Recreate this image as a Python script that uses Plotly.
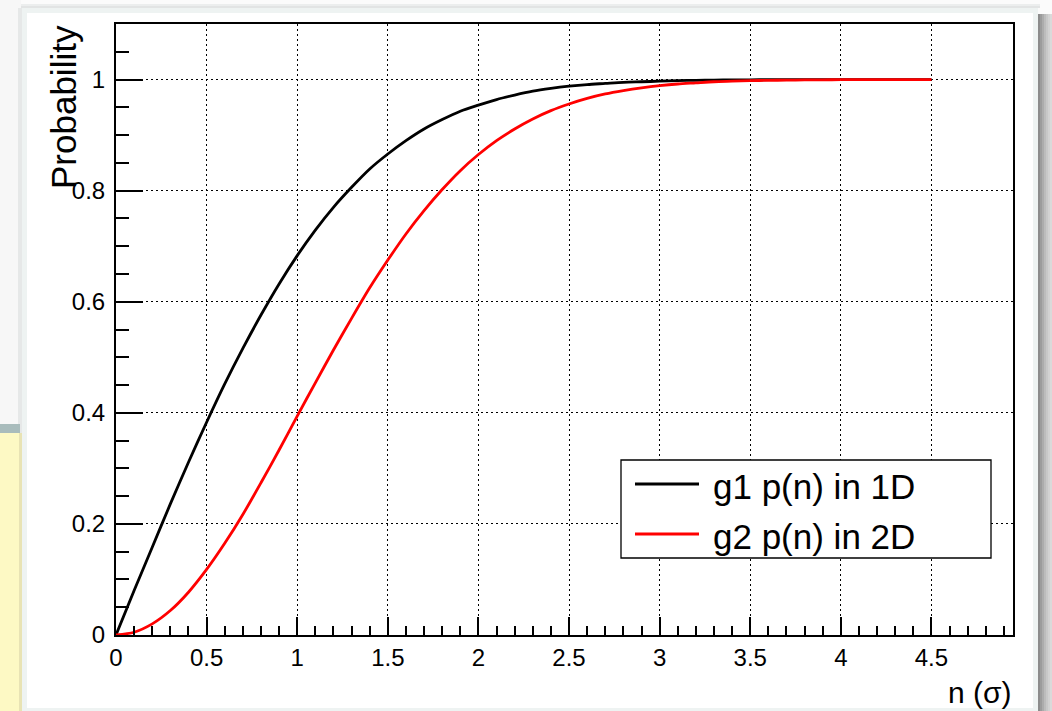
import plotly.graph_objects as go

# ---- data ----
n_sigma = [0.0, 0.1, 0.2, 0.3, 0.4, 0.5, 0.6, 0.7, 0.8, 0.9, 1.0, 1.1, 1.2, 1.3, 1.4,
           1.5, 1.6, 1.7, 1.8, 1.9, 2.0, 2.1, 2.2, 2.3, 2.4, 2.5, 2.6, 2.7, 2.8, 2.9,
           3.0, 3.1, 3.2, 3.3, 3.4, 3.5, 3.6, 3.7, 3.8, 3.9, 4.0, 4.1, 4.2, 4.3, 4.4, 4.5]
p_1d = [0.0, 0.080, 0.158, 0.236, 0.311, 0.383, 0.452, 0.516, 0.576, 0.632, 0.683,
        0.729, 0.770, 0.806, 0.839, 0.866, 0.890, 0.911, 0.928, 0.943, 0.954, 0.964,
        0.972, 0.979, 0.984, 0.988, 0.991, 0.993, 0.995, 0.996, 0.997, 0.998, 0.9986,
        0.999, 0.9993, 0.9995, 0.9997, 0.9998, 0.9999, 0.9999, 0.9999, 1.0, 1.0, 1.0,
        1.0, 1.0]
p_2d = [0.0, 0.005, 0.020, 0.044, 0.077, 0.118, 0.165, 0.217, 0.274, 0.333, 0.394,
        0.454, 0.513, 0.570, 0.625, 0.675, 0.722, 0.764, 0.802, 0.836, 0.865, 0.890,
        0.911, 0.929, 0.944, 0.956, 0.966, 0.974, 0.980, 0.985, 0.989, 0.992, 0.994,
        0.996, 0.997, 0.998, 0.9985, 0.9989, 0.9993, 0.9995, 0.9997, 0.9998, 0.9999,
        0.9999, 1.0, 1.0]
series_names = ["g1 p(n) in 1D", "g2 p(n) in 2D"]
series_colors = ["#000000", "#ff0000"]
x_title = "n (σ)"
y_title = "Probability"

W, H = 1052, 711
L, R, T, B = 116, 1013, 24, 635
FONT = "Liberation Sans"
TICKFONT = dict(family=FONT, size=24, color="black")


def px(x):
    return (x - L) / (R - L)


def py(y):
    return (B - y) / (B - T)


fig = go.Figure()
for xs, ys, name, col in [(n_sigma, p_1d, series_names[0], series_colors[0]),
                          (n_sigma, p_2d, series_names[1], series_colors[1])]:
    fig.add_trace(go.Scatter(x=xs, y=ys, mode="lines", name=name,
                             line=dict(color=col, width=2.8, shape="spline", smoothing=0.8),
                             showlegend=False))

shapes = []


def rect(x0, y0, x1, y1, color, layer="below"):
    shapes.append(dict(type="rect", xref="paper", yref="paper",
                       x0=px(x0), x1=px(x1), y0=py(y0), y1=py(y1),
                       fillcolor=color, line=dict(width=0), layer=layer))


# window background / frame
rect(0, 0, W, H, "#fbfbfb")
rect(18, 4, 1040, 8, "#eceeee")
rect(18, 6, 1040, 8, "#e2e4e4")
for i, c in enumerate(["#8c8c8c", "#9c9c9c", "#acacac", "#bcbcbc", "#c8c8c8", "#d2d2d2", "#dadada"]):
    rect(1038 + 2 * i, 14, 1040 + 2 * i, H, c)
rect(0, 0, 21, 424, "#f7f7f7")
rect(18, 8, 22, H, "#e6e8e8")
rect(0, 424, 20, 433, "#a9bcbc")
rect(0, 433, 20, H, "#fdf9c4")
rect(19, 433, 22, H, "#e8e3b4")
rect(22, 8, 1038, H, "#eef3f2")
rect(27, 13, 1033, 708, "#ffffff")

# legend box (drawn manually)
LX0, LX1, LY0, LY1 = 621, 991, 460, 558
shapes.append(dict(type="rect", xref="paper", yref="paper",
                   x0=px(LX0), x1=px(LX1), y0=py(LY0), y1=py(LY1),
                   fillcolor="white", line=dict(color="black", width=1.3), layer="above"))
annotations = []
for i, (name, col) in enumerate(zip(series_names, series_colors)):
    yy = 484 + 50 * i
    shapes.append(dict(type="line", xref="paper", yref="paper",
                       x0=px(635), x1=px(699), y0=py(yy), y1=py(yy),
                       line=dict(color=col, width=2.8), layer="above"))
    annotations.append(dict(xref="paper", yref="paper", x=px(711), y=py(yy + 2),
                            xanchor="left", yanchor="middle", showarrow=False,
                            text=name, font=dict(family=FONT, size=35, color="black")))

annotations.append(dict(xref="paper", yref="paper", x=px(1014), y=py(692),
                        xanchor="right", yanchor="middle", showarrow=False,
                        text=x_title, font=dict(family=FONT, size=30, color="black")))
annotations.append(dict(xref="paper", yref="paper", x=px(64), y=py(23),
                        xanchor="center", yanchor="top", showarrow=False, textangle=-90,
                        text=y_title, font=dict(family=FONT, size=35, color="black")))

axis_common = dict(showline=True, linecolor="black", linewidth=2, mirror=True,
                   ticks="inside", tickcolor="black", tickwidth=1.5,
                   showgrid=True, gridcolor="black", gridwidth=1.3, griddash="2px,3px",
                   zeroline=False)

fig.update_layout(
    width=W, height=H,
    margin=dict(l=L, r=W - R, t=T, b=H - B, pad=0),
    paper_bgcolor="#fbfbfb", plot_bgcolor="white",
    font=dict(family=FONT, size=24, color="black"),
    showlegend=False,
    shapes=shapes, annotations=annotations,
    xaxis=dict(range=[0, 4.95], tick0=0, dtick=0.5, ticklen=18,
               minor=dict(dtick=0.1, tick0=0, ticks="inside", ticklen=9,
                          tickcolor="black", tickwidth=1.5, showgrid=False),
               ticklabelstandoff=0, **axis_common),
    yaxis=dict(range=[0, 1.1], tick0=0, dtick=0.2, ticklen=27,
               minor=dict(dtick=0.05, tick0=0, ticks="inside", ticklen=13,
                          tickcolor="black", tickwidth=1.5, showgrid=False),
               ticklabelstandoff=4, **axis_common),
)
fig.update_xaxes(tickfont=TICKFONT)
fig.update_yaxes(tickfont=TICKFONT)

fig.write_html("out.html")
